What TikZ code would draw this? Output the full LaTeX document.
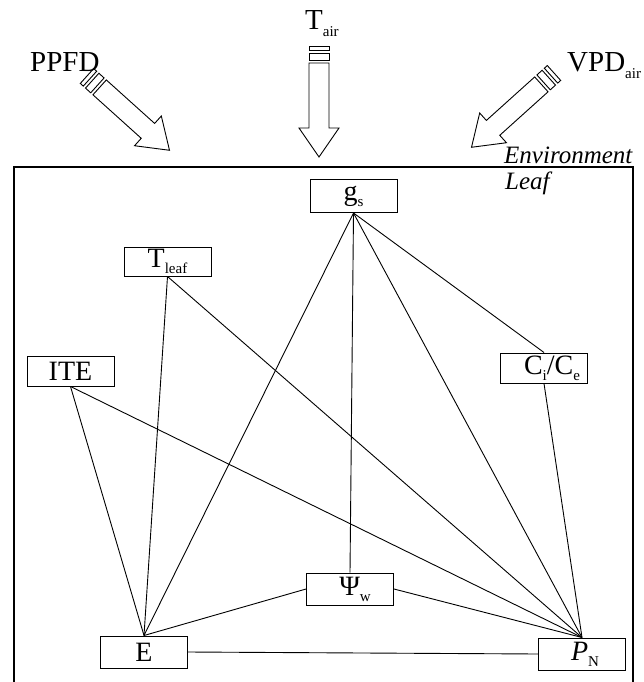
\documentclass[tikz,border=0pt]{standalone}
\usepackage{fontspec}
\setmainfont{Liberation Serif}
\newcommand\lowsub[1]{\raisebox{-0.22em}{\fontsize{15}{15}\selectfont #1}}
\begin{document}
\begin{tikzpicture}[x=1pt,y=-1pt,
  box/.style={draw, line width=1pt, minimum width=87pt, minimum height=31pt, inner sep=0pt, font=\fontsize{28}{28}\selectfont},
  lab/.style={inner sep=0pt, font=\fontsize{29}{29}\selectfont},
  envtext/.style={inner sep=0pt, font=\fontsize{25}{25}\selectfont\itshape},
  conn/.style={line width=0.9pt},
  bigarrow/.style={draw, line width=0.9pt, fill=white, line join=miter}]
\useasboundingbox (0,0) rectangle (644,682);

% big hollow arrows
\newcommand\hollowarrow[2]{%
\begin{scope}[shift={(#1)}, rotate=#2]
  \draw[bigarrow] (0,-10) rectangle (4,10);
  \draw[bigarrow] (7,-10) rectangle (14,10);
  \draw[bigarrow] (17,-10) -- (82,-10) -- (82,-20) -- (111,0) -- (82,20) -- (82,10) -- (17,10) -- cycle;
\end{scope}}
\hollowarrow{87,76}{-42}
\hollowarrow{319,46}{-90}
\hollowarrow{554,73}{-138}

% labels of inputs
\node[lab, anchor=base west] (ppfd) at (30,72) {PPFD};
\node[lab, anchor=base west] (tair) at (305,30) {T\lowsub{air}};
\node[lab, anchor=base west] (vpd) at (567,72) {VPD\lowsub{air}};

% leaf rectangle
\draw[line width=1.2pt] (14,690) -- (14,167) -- (633,167) -- (633,690);
\node[envtext, anchor=base west] (env) at (504,163) {Environment};
\node[envtext, anchor=base west] (leaf) at (505,189) {Leaf};

% nodes
\node[box, minimum height=33pt] (gs) at (353.5,196) {g\lowsub{s}};
\node[box, minimum height=29pt] (tl) at (167.5,261.5) {T\lowsub{leaf}\hspace{28pt}};
\node[box, minimum height=30pt] (ite) at (70.5,371) {ITE};
\node[box, minimum height=30pt] (ci) at (544,368) {\hspace{16pt}C\lowsub{i}/C\lowsub{e}};
\node[box, minimum height=32pt] (psi) at (350,589) {\hspace{10pt}Ψ\lowsub{w}};
\node[box, minimum height=32pt] (e) at (144,652) {E};
\node[box, minimum height=32pt] (pn) at (582,654) {\hspace{6pt}\textit{P}\lowsub{N}};

% connectors
\draw[conn] (gs.south) -- (e.north);
\draw[conn] (gs.south) -- (psi.north);
\draw[conn] (gs.south) -- (pn.north);
\draw[conn] (gs.south) -- (ci.north);
\draw[conn] (tl.south) -- (e.north);
\draw[conn] (tl.south) -- (pn.north);
\draw[conn] (ite.south) -- (e.north);
\draw[conn] (ite.south) -- (pn.north);
\draw[conn] (ci.south) -- (pn.north);
\draw[conn] (psi.west) -- (e.north);
\draw[conn] (psi.east) -- (pn.north);
\draw[conn] (e.east) -- (pn.west);
\end{tikzpicture}
\end{document}
